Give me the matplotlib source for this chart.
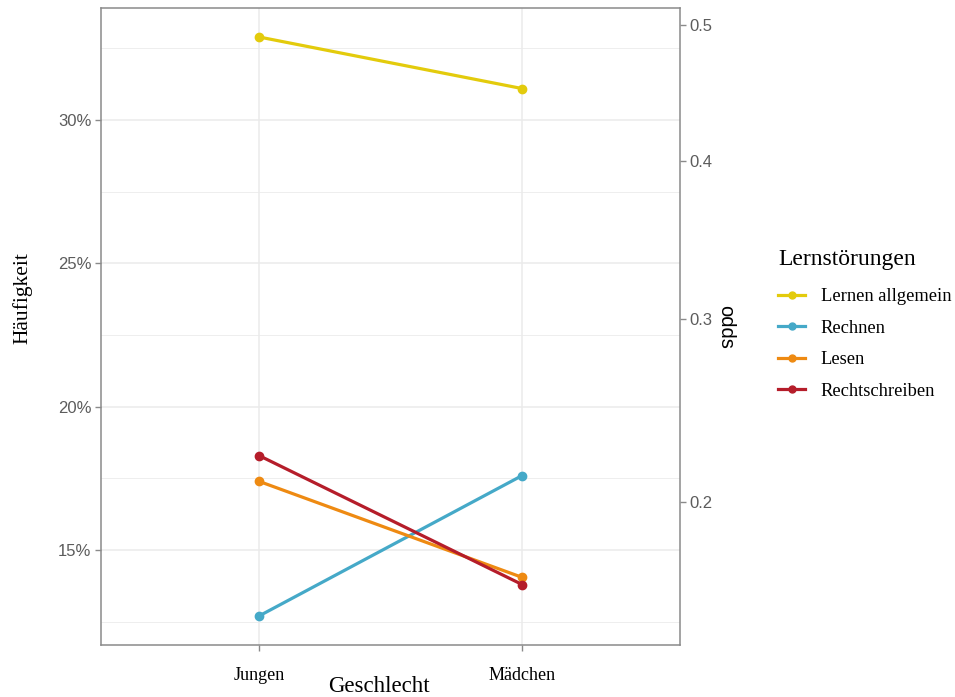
import matplotlib
matplotlib.use('Agg')
from matplotlib import pyplot as plt
from matplotlib.lines import Line2D
from matplotlib.ticker import FixedLocator, FuncFormatter

# Data
genders = ['Jungen', 'Mädchen']
disorders = ['Lernen allgemein', 'Rechnen', 'Lesen', 'Rechtschreiben']
lernen_allgemein = [0.329, 0.311]
rechnen = [0.127, 0.176]
lesen = [0.174, 0.1405]
rechtschreiben = [0.183, 0.138]
colors = ['#E3CB0C', '#45A9C8', '#EE8A12', '#B51D2A']

series = [lernen_allgemein, rechnen, lesen, rechtschreiben]

SERIF = 'Liberation Serif'
SANS = 'Liberation Sans'
TICK_GREY = '#5c5c5c'
BORDER = '#8a8a8a'
GRID = '#ebebeb'

fig = plt.figure(figsize=(9.55, 6.97), dpi=100)
ax = fig.add_axes([101 / 955, 52 / 697, 579 / 955, 637 / 697])

x = list(range(len(genders)))
for vals, col in zip(series, colors):
    ax.plot(x, vals, color=col, linewidth=2.3, marker='o', markersize=6,
            solid_capstyle='butt', zorder=3)

# ggplot style discrete expansion (0.6) and continuous 5% expansion
ax.set_xlim(-0.6, len(genders) - 1 + 0.6)
allv = [v for s in series for v in s]
lo, hi = min(allv), max(allv)
pad = (hi - lo) * 0.05
ax.set_ylim(lo - pad, hi + pad)

ax.set_xticks(x)
ax.set_xticklabels(genders, fontfamily=SERIF, fontsize=13, color='black')
ax.yaxis.set_major_locator(FixedLocator([0.15, 0.20, 0.25, 0.30]))
ax.yaxis.set_minor_locator(FixedLocator([0.125, 0.175, 0.225, 0.275, 0.325]))
ax.yaxis.set_major_formatter(FuncFormatter(lambda v, p: f'{v * 100:.0f}%'))
for lab in ax.get_yticklabels():
    lab.set_fontfamily(SANS)
ax.tick_params(axis='y', which='major', labelsize=12, labelcolor=TICK_GREY,
               color=BORDER, length=4, width=1, pad=3)
ax.tick_params(axis='y', which='minor', length=0)
ax.tick_params(axis='x', which='major', color=BORDER, length=4, width=1, pad=12)

ax.grid(True, which='major', color=GRID, linewidth=1.1, zorder=0)
ax.grid(True, which='minor', axis='y', color=GRID, linewidth=0.6, zorder=0)
ax.set_axisbelow(True)
for sp in ax.spines.values():
    sp.set_color(BORDER)
    sp.set_linewidth(1.1)

# secondary axis: odds
sec = ax.secondary_yaxis('right', functions=(lambda p: p / (1 - p),
                                             lambda o: o / (1 + o)))
sec.yaxis.set_major_locator(FixedLocator([0.2, 0.3, 0.4, 0.5]))
sec.yaxis.set_major_formatter(FuncFormatter(lambda v, p: f'{v:g}'))
sec.tick_params(axis='y', labelsize=12, labelcolor=TICK_GREY, color=BORDER,
                length=4, width=1, pad=3)
for lab in sec.get_yticklabels():
    lab.set_fontfamily(SANS)
sec.spines['right'].set_visible(False)
sec.set_ylabel('odds', fontfamily=SANS, fontsize=14.5, color='black',
               rotation=270, labelpad=16)

fig.text(22 / 955, 1 - 298 / 697, 'Häufigkeit', rotation=90, ha='center',
         va='center', fontfamily=SERIF, fontsize=15.5)
fig.text(379 / 955, 1 - 687 / 697, 'Geschlecht', ha='center', va='center',
         fontfamily=SERIF, fontsize=16.5)

handles = [Line2D([], [], color=c, linewidth=2.3, marker='o', markersize=5)
           for c in colors]
leg = fig.legend(handles, disorders, loc='upper left',
                 bbox_to_anchor=(771 / 955, 1 - 242 / 697), frameon=False,
                 title='Lernstörungen', handlelength=1.45, handletextpad=0.85,
                 labelspacing=0.78, borderaxespad=0,
                 prop={'family': SERIF, 'size': 13.3})
leg.get_title().set_fontfamily(SERIF)
leg.get_title().set_fontsize(17)
leg._legend_box.align = 'left'
leg._legend_box.sep = 13

fig.savefig('out.png', dpi=100, facecolor='white')
